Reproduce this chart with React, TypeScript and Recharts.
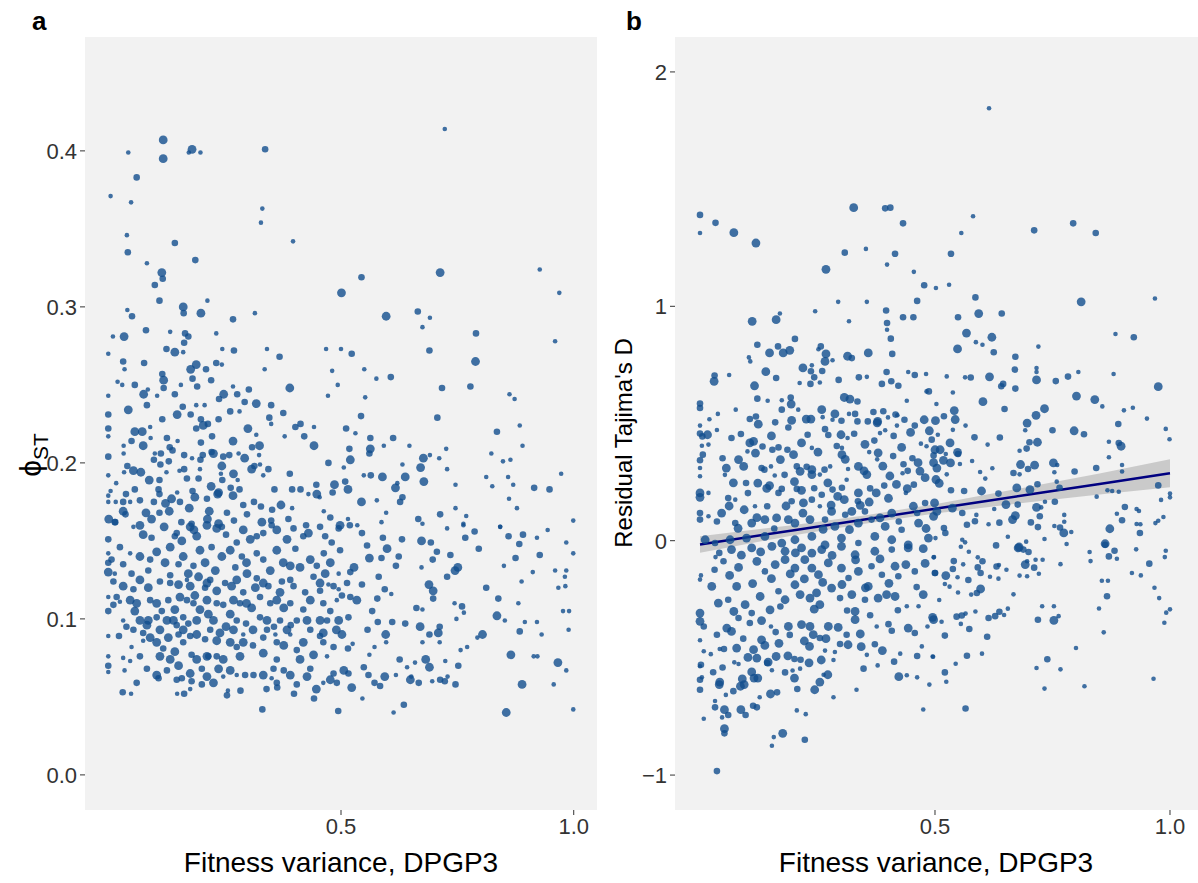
import React from 'react';
import { ScatterChart, ComposedChart, Scatter, Line, Area, XAxis, YAxis, CartesianGrid } from 'recharts';

type P = [number, number, number];

const xTicks = [0.5, 1.0];
const yTicksA = [0, 0.1, 0.2, 0.3, 0.4];
const yTicksB = [-1, 0, 1, 2];

// panel a: fitness variance vs phi_ST  [x, y, sizeClass]
const phiST: P[] = [
[0.118,0.407,3],[0.043,0.399,1],[0.118,0.395,3],[0.180,0.401,3],[0.173,0.399,1],[0.198,0.399,1],[0.337,0.401,2],[0.061,0.383,2],[0.005,0.371,1],[0.049,0.367,1],[0.331,0.363,1],[0.328,0.354,1],[0.397,0.342,1],[0.040,0.346,1],[0.143,0.341,2],[0.042,0.335,2],[0.083,0.328,1],[0.187,0.330,2],[0.115,0.322,3],[0.117,0.318,2],[0.100,0.314,2],[0.501,0.309,3],[0.110,0.304,2],[0.161,0.300,3],[0.162,0.296,2],[0.199,0.296,3],[0.213,0.304,1],[0.041,0.298,1],[0.051,0.294,2],[0.268,0.292,2],[0.315,0.296,1],[0.081,0.285,2],
[0.723,0.414,1],[0.544,0.319,2],[0.713,0.322,3],[0.927,0.324,1],[0.969,0.309,1],[0.597,0.294,3],[0.665,0.297,2],[0.691,0.293,1],[0.675,0.287,1],
[0.790,0.283,2],[0.960,0.278,1],[0.523,0.270,2],[0.690,0.272,2],[0.789,0.265,3],[0.550,0.260,1],[0.576,0.254,1],[0.607,0.255,2],[0.717,0.248,2],[0.778,0.249,2],[0.862,0.244,1],[0.873,0.241,1],[0.552,0.242,1],[0.543,0.230,2],[0.707,0.229,2],[0.884,0.224,1],[0.835,0.220,2],[0.511,0.222,2],[0.531,0.219,1],[0.563,0.216,2],[0.612,0.216,2],[0.647,0.211,1],[0.592,0.211,1],[0.518,0.209,2],[0.563,0.209,3],[0.561,0.206,2],[0.520,0.202,3],[0.677,0.203,3],[0.691,0.205,1],[0.711,0.203,1],[0.726,0.209,1],[0.890,0.211,1],[0.823,0.206,1],[0.848,0.201,1],[0.864,0.202,1],[0.632,0.199,1],[0.671,0.197,3],[0.728,0.196,1],[0.506,0.197,1],[0.549,0.192,1],[0.564,0.192,2],[0.589,0.191,3],[0.638,0.191,3],[0.509,0.188,2],[0.515,0.183,3],[0.678,0.188,3],[0.617,0.184,3],[0.621,0.187,1],[0.746,0.186,1],[0.812,0.191,1],[0.859,0.191,1],[0.973,0.193,1],[0.825,0.185,1],[0.870,0.186,1],[0.915,0.184,2],[0.948,0.183,2],[0.544,0.175,3],[0.577,0.176,1],[0.632,0.178,2],[0.627,0.175,2],[0.861,0.177,1],[0.597,0.168,1],[0.746,0.171,1],[0.878,0.171,1],[0.713,0.167,2],[0.769,0.166,1],[0.515,0.164,1],[0.519,0.160,2],[0.535,0.160,1],[0.587,0.162,1],[0.666,0.164,2],[0.675,0.161,1],[0.763,0.160,1],[0.842,0.159,1],[0.999,0.163,1],
[0.010,0.281,1],[0.034,0.281,3],[0.133,0.284,1],[0.165,0.283,2],[0.172,0.281,2],[0.163,0.277,2],[0.232,0.283,1],[0.000,0.270,1],[0.125,0.273,2],[0.143,0.271,3],[0.161,0.271,1],[0.245,0.273,1],[0.270,0.272,2],[0.341,0.273,1],[0.368,0.268,2],[0.468,0.273,1],[0.500,0.273,1],[0.032,0.265,2],[0.077,0.264,2],[0.035,0.260,1],[0.189,0.263,3],[0.177,0.260,3],[0.210,0.260,2],[0.232,0.264,2],[0.244,0.263,1],[0.336,0.260,1],[0.481,0.259,1],[0.116,0.257,2],[0.119,0.253,3],[0.181,0.254,2],[0.221,0.253,2],[0.020,0.252,1],[0.030,0.250,1],[0.057,0.250,2],[0.156,0.250,1],[0.119,0.248,2],[0.191,0.249,2],[0.268,0.249,1],[0.302,0.247,2],[0.390,0.248,3],[0.493,0.250,1],[0.000,0.243,1],[0.076,0.244,3],[0.085,0.247,1],[0.105,0.243,1],[0.143,0.244,2],[0.248,0.244,3],[0.238,0.241,2],[0.277,0.244,2],[0.318,0.238,3],[0.293,0.239,2],[0.350,0.237,2],[0.472,0.243,1],[0.043,0.234,3],[0.083,0.237,2],[0.160,0.236,2],[0.189,0.237,1],[0.207,0.237,1],[0.148,0.231,3],[0.177,0.231,2],[0.262,0.233,2],[0.282,0.233,1],[0.376,0.232,2],[0.000,0.231,2],[0.346,0.229,2],[0.116,0.228,2],[0.199,0.228,2],[0.237,0.228,2],[0.214,0.225,2],[0.204,0.224,3],[0.300,0.222,3],[0.189,0.222,2],[0.350,0.225,1],[0.402,0.223,2],[0.413,0.225,2],[0.442,0.223,1],[0.000,0.222,2],[0.000,0.217,1],[0.057,0.220,3],[0.073,0.220,3],[0.090,0.223,1],[0.091,0.216,1],[0.126,0.216,2],[0.050,0.214,2],[0.149,0.214,1],[0.199,0.213,2],[0.223,0.217,2],[0.268,0.214,3],[0.318,0.218,1],[0.379,0.217,1],[0.421,0.217,2],[0.442,0.211,3],[0.473,0.200,2],[0.486,0.186,3],[0.447,0.186,2],[0.482,0.181,2],[0.033,0.211,1],[0.075,0.211,3],[0.132,0.210,2],[0.138,0.208,2],[0.163,0.205,2],[0.180,0.203,1],[0.203,0.205,2],[0.222,0.207,2],[0.226,0.206,3],[0.247,0.204,2],[0.260,0.205,2],[0.280,0.206,1],[0.309,0.210,2],[0.325,0.211,3],[0.293,0.203,3],[0.324,0.205,1],[0.000,0.204,2],[0.033,0.206,1],[0.100,0.206,1],[0.113,0.206,2],[0.098,0.202,2],[0.130,0.201,2],[0.112,0.199,2],[0.198,0.202,2],[0.163,0.196,2],[0.197,0.196,1],[0.244,0.198,3],[0.269,0.193,3],[0.308,0.196,3],[0.314,0.198,2],[0.326,0.199,1],[0.344,0.196,2],[0.333,0.192,1],[0.390,0.193,2],[0.000,0.192,1],[0.034,0.194,1],[0.017,0.187,1],[0.041,0.198,2],[0.054,0.195,3],[0.070,0.194,3],[0.088,0.189,3],[0.110,0.189,2],[0.125,0.194,1],[0.153,0.195,1],[0.169,0.190,2],[0.194,0.190,2],[0.242,0.193,1],[0.245,0.189,2],[0.278,0.189,1],[0.221,0.185,3],[0.237,0.181,3],[0.263,0.184,2],[0.282,0.183,2],[0.357,0.183,2],[0.395,0.183,2],[0.413,0.183,2],[0.430,0.180,1],[0.057,0.183,2],[0.038,0.180,2],[0.005,0.182,1],[0.108,0.183,2],[0.110,0.180,2],[0.136,0.177,3],[0.148,0.181,1],[0.181,0.182,2],[0.186,0.178,3],[0.212,0.177,2],[0.235,0.180,3],[0.268,0.179,3],[0.290,0.173,2],[0.313,0.175,2],[0.328,0.172,2],[0.371,0.173,3],[0.352,0.170,2],[0.395,0.171,1],[0.448,0.180,3],[0.454,0.178,1],[0.000,0.179,1],[0.000,0.175,1],[0.016,0.175,1],[0.032,0.175,2],[0.047,0.175,1],[0.068,0.176,2],[0.098,0.175,2],[0.123,0.174,3],[0.154,0.175,2],[0.174,0.171,3],[0.032,0.169,3],[0.001,0.164,3],[0.015,0.162,2],[0.037,0.167,2],[0.081,0.168,3],[0.093,0.164,3],[0.110,0.168,2],[0.131,0.169,3],[0.157,0.162,2],[0.179,0.161,2],[0.217,0.169,3],[0.213,0.164,3],[0.237,0.161,3],[0.255,0.168,2],[0.270,0.163,2],[0.298,0.167,2],[0.330,0.162,3],[0.350,0.163,2],[0.387,0.164,2],[0.425,0.160,2],[0.463,0.169,1],[0.477,0.165,2],[0.498,0.160,3],
[0.014,0.162,2],[0.054,0.159,1],[0.075,0.154,3],[0.093,0.152,2],[0.120,0.159,3],[0.143,0.153,2],[0.176,0.159,3],[0.190,0.153,3],[0.233,0.158,3],[0.253,0.154,2],[0.276,0.149,2],[0.305,0.151,3],[0.333,0.155,2],[0.351,0.160,2],[0.384,0.151,3],[0.419,0.153,2],[0.455,0.159,2],[0.495,0.158,2],[0.480,0.149,2],[0.000,0.151,2],[0.000,0.142,1],[0.025,0.146,2],[0.047,0.142,1],[0.104,0.143,3],[0.133,0.146,3],[0.158,0.150,3],[0.197,0.144,3],[0.222,0.146,2],[0.262,0.144,3],[0.287,0.140,2],[0.319,0.142,2],[0.362,0.144,3],[0.402,0.145,2],[0.434,0.138,3],[0.463,0.142,2],[0.498,0.144,2],[0.000,0.136,2],[0.000,0.130,3],[0.014,0.129,1],[0.032,0.135,2],[0.050,0.129,2],[0.086,0.131,2],[0.122,0.136,3],[0.151,0.135,2],[0.172,0.129,3],[0.194,0.127,3],[0.212,0.123,3],[0.230,0.131,3],[0.251,0.123,2],[0.273,0.133,2],[0.298,0.129,3],[0.319,0.126,2],[0.348,0.131,3],[0.373,0.124,2],[0.391,0.134,3],[0.412,0.133,3],[0.441,0.127,2],[0.466,0.129,3],[0.495,0.129,1],[0.011,0.124,2],[0.032,0.121,3],[0.054,0.119,2],[0.086,0.120,3],[0.111,0.124,2],[0.133,0.123,2],[0.151,0.122,3],[0.169,0.125,1],[0.186,0.115,3],[0.208,0.120,2],[0.233,0.118,3],[0.265,0.121,3],[0.290,0.117,2],[0.316,0.120,3],[0.344,0.121,2],[0.369,0.117,3],[0.398,0.121,2],[0.423,0.117,2],[0.455,0.118,2],[0.473,0.122,1],[0.495,0.119,1],[0.000,0.114,1],[0.025,0.111,1],[0.061,0.110,3],[0.057,0.105,3],[0.011,0.109,2],[0.000,0.105,2],[0.104,0.110,3],[0.129,0.112,2],[0.115,0.105,2],[0.143,0.106,3],[0.169,0.112,2],[0.197,0.106,3],[0.215,0.103,3],[0.247,0.109,2],[0.262,0.103,3],[0.283,0.110,2],[0.308,0.107,3],[0.326,0.101,2],[0.348,0.110,2],[0.377,0.107,3],[0.405,0.099,2],[0.419,0.106,2],[0.455,0.099,3],[0.477,0.105,2],[0.495,0.099,3],[0.032,0.099,1],[0.039,0.095,2],[0.086,0.099,3],[0.083,0.096,3],[0.126,0.099,3],[0.147,0.096,2],[0.172,0.097,2],[0.253,0.095,3],[0.296,0.097,2],[0.311,0.093,3],[0.356,0.095,2],[0.392,0.096,2],[0.490,0.093,3],[0.000,0.089,1],[0.023,0.089,2],[0.075,0.091,2],[0.090,0.088,3],[0.075,0.086,1],[0.129,0.088,3],[0.151,0.090,2],[0.176,0.089,2],[0.190,0.090,3],[0.208,0.087,2],[0.233,0.086,3],[0.262,0.085,3],[0.240,0.091,3],[0.290,0.090,1],[0.333,0.088,2],[0.359,0.090,1],[0.391,0.090,1],[0.455,0.089,2],[0.050,0.082,1],[0.118,0.081,2],[0.143,0.079,3],[0.179,0.077,2],[0.212,0.076,3],[0.247,0.074,3],[0.276,0.082,2],[0.311,0.083,2],[0.333,0.078,3],[0.377,0.083,3],[0.405,0.080,2],[0.441,0.077,3],[0.470,0.076,1],[0.484,0.082,2],[0.000,0.076,1],[0.000,0.070,2],[0.000,0.066,1],[0.032,0.075,1],[0.035,0.067,1],[0.047,0.073,1],[0.083,0.068,2],[0.104,0.064,3],[0.108,0.062,2],[0.061,0.059,2],[0.111,0.076,3],[0.151,0.070,3],[0.158,0.062,2],[0.179,0.060,2],[0.201,0.068,2],[0.212,0.063,3],[0.215,0.076,2],[0.237,0.068,3],[0.247,0.063,1],[0.276,0.064,1],[0.294,0.064,2],[0.312,0.064,2],[0.333,0.064,3],[0.355,0.068,2],[0.351,0.062,1],[0.391,0.064,3],[0.405,0.058,2],[0.434,0.068,2],[0.477,0.061,3],[0.491,0.059,2],[0.484,0.065,2],[0.031,0.053,2],[0.049,0.052,1],[0.148,0.052,1],[0.163,0.052,2],[0.176,0.055,1],[0.201,0.058,2],[0.255,0.051,2],[0.257,0.054,1],[0.284,0.054,2],[0.340,0.055,2],[0.363,0.056,2],[0.399,0.052,2],[0.447,0.055,3],[0.442,0.049,2],[0.331,0.042,2],[0.494,0.041,2],
[0.068,0.160,3],[0.147,0.155,2],[0.184,0.157,3],[0.212,0.160,3],[0.244,0.159,2],[0.290,0.157,3],[0.319,0.153,2],[0.362,0.157,3],[0.398,0.158,2],[0.430,0.155,3],[0.466,0.153,2],[0.007,0.138,2],[0.068,0.140,3],[0.090,0.138,2],[0.161,0.140,3],[0.183,0.134,2],[0.208,0.136,3],[0.244,0.140,3],[0.297,0.136,3],[0.333,0.138,2],[0.376,0.136,3],[0.448,0.134,2],[0.477,0.136,3],[0.068,0.125,3],[0.133,0.128,2],[0.176,0.121,3],[0.219,0.125,2],[0.276,0.125,3],[0.333,0.123,3],[0.391,0.125,2],[0.455,0.123,3],[0.484,0.121,2],[0.018,0.114,2],[0.047,0.112,3],[0.090,0.112,2],[0.154,0.114,3],[0.183,0.110,2],[0.212,0.112,3],[0.233,0.110,2],[0.269,0.112,3],[0.297,0.110,3],[0.326,0.114,2],[0.362,0.112,3],[0.391,0.110,2],[0.434,0.112,3],[0.462,0.110,2],[0.491,0.112,1],[0.068,0.099,3],[0.104,0.101,2],[0.140,0.099,3],[0.161,0.101,2],[0.190,0.099,3],[0.226,0.099,3],[0.276,0.099,2],[0.341,0.099,3],[0.369,0.099,2],[0.427,0.099,3],[0.470,0.099,2],[0.054,0.093,2],[0.111,0.093,3],[0.161,0.093,3],[0.219,0.093,2],[0.269,0.093,3],[0.341,0.093,2],[0.384,0.093,3],[0.434,0.093,2],[0.462,0.091,3],[0.104,0.085,3],[0.161,0.085,2],[0.290,0.085,3],[0.362,0.085,2],[0.419,0.085,3],[0.462,0.085,2],[0.068,0.076,2],[0.133,0.074,3],[0.190,0.074,3],[0.233,0.076,2],[0.283,0.076,3],[0.362,0.074,2],[0.412,0.074,3],[0.126,0.067,2],[0.176,0.065,3],[0.262,0.067,3],[0.377,0.067,2],[0.427,0.063,3],[0.147,0.061,2],[0.226,0.059,3],[0.362,0.059,2],[0.462,0.059,1],
[0.545,0.155,2],[0.590,0.152,2],[0.631,0.151,2],[0.673,0.150,3],[0.693,0.149,2],[0.767,0.152,2],[0.787,0.156,2],[0.728,0.158,1],[0.763,0.161,1],[0.842,0.159,1],[0.860,0.153,2],[0.891,0.154,2],[0.921,0.152,1],[0.944,0.157,1],[0.556,0.147,2],[0.599,0.145,3],[0.561,0.139,3],[0.587,0.139,2],[0.624,0.140,2],[0.706,0.143,2],[0.735,0.141,2],[0.796,0.145,2],[0.883,0.148,2],[0.927,0.141,2],[0.984,0.149,1],[0.999,0.142,1],[0.875,0.139,2],[0.850,0.134,1],[0.528,0.133,3],[0.520,0.130,2],[0.618,0.134,2],[0.673,0.133,1],[0.697,0.138,2],[0.751,0.133,3],[0.745,0.131,3],[0.912,0.130,1],[0.960,0.131,1],[0.984,0.131,1],[0.513,0.123,2],[0.545,0.122,2],[0.581,0.127,2],[0.594,0.119,2],[0.689,0.122,3],[0.698,0.118,3],[0.728,0.127,2],[0.812,0.120,2],[0.888,0.124,1],[0.981,0.127,1],[0.967,0.120,1],[0.982,0.121,1],[0.534,0.112,3],[0.520,0.114,2],[0.502,0.115,2],[0.578,0.113,2],[0.608,0.116,1],[0.698,0.113,2],[0.662,0.107,2],[0.675,0.106,1],[0.744,0.110,1],[0.760,0.108,2],[0.764,0.104,1],[0.838,0.113,2],[0.881,0.110,1],[0.835,0.102,3],[0.852,0.099,1],[0.748,0.100,1],[0.977,0.105,1],[0.990,0.105,1],[0.567,0.105,2],[0.516,0.101,2],[0.579,0.098,2],[0.610,0.098,2],[0.638,0.097,2],[0.502,0.090,3],[0.596,0.090,3],[0.670,0.095,3],[0.712,0.095,2],[0.709,0.091,3],[0.690,0.090,2],[0.557,0.093,2],[0.804,0.090,3],[0.793,0.088,1],[0.884,0.092,2],[0.895,0.098,1],[0.921,0.098,1],[0.931,0.090,1],[0.989,0.093,1],[0.515,0.081,2],[0.525,0.084,1],[0.572,0.082,1],[0.597,0.085,1],[0.675,0.085,1],[0.712,0.085,1],[0.771,0.082,1],[0.757,0.080,1],[0.561,0.077,1],[0.626,0.074,2],[0.682,0.074,3],[0.724,0.073,1],[0.659,0.072,1],[0.865,0.077,3],[0.914,0.076,1],[0.922,0.076,1],[0.966,0.072,3],[0.984,0.067,1],[0.506,0.067,3],[0.516,0.065,2],[0.549,0.069,2],[0.559,0.064,2],[0.594,0.063,3],[0.584,0.057,2],[0.572,0.059,2],[0.642,0.069,1],[0.618,0.064,1],[0.649,0.061,3],[0.667,0.059,2],[0.651,0.063,1],[0.690,0.069,3],[0.713,0.061,2],[0.723,0.060,2],[0.729,0.063,1],[0.696,0.060,1],[0.746,0.058,2],[0.752,0.070,2],[0.889,0.058,3],[0.957,0.058,1],[0.523,0.056,3],[0.546,0.049,1],[0.635,0.045,2],[0.613,0.040,1],[0.855,0.040,3],[0.999,0.042,1],
];

// panel b: fitness variance vs residual Tajima's D  [x, y, sizeClass]
const tajimaD: P[] = [
[0.000,1.390,2],[0.033,1.356,2],[0.000,1.313,1],[0.072,1.314,3],[0.119,1.270,3],[0.327,1.421,3],[0.394,1.418,2],[0.405,1.421,2],[0.432,1.354,2],[0.308,1.229,2],[0.353,1.245,1],[0.415,1.224,2],[0.398,1.178,1],[0.268,1.158,3],[0.455,1.147,1],[0.477,1.090,2],[0.502,1.078,1],[0.294,1.019,1],[0.355,1.019,1],[0.462,1.023,2],[0.396,0.982,2],[0.432,0.953,2],[0.454,0.953,2],[0.245,0.979,1],[0.170,0.969,1],[0.162,0.943,3],[0.111,0.936,3],[0.317,0.936,1],[0.398,0.929,2],
[0.615,1.845,1],[0.581,1.384,1],[0.556,1.313,1],[0.711,1.324,2],[0.794,1.354,2],[0.842,1.313,2],[0.534,1.224,2],[0.530,1.092,1],[0.586,1.038,2],[0.811,1.019,3],[0.968,1.033,1],[0.549,0.953,2],[0.593,0.969,3],[0.642,0.969,2],
[0.398,0.900,1],[0.406,0.862,2],[0.409,0.797,2],[0.202,0.861,2],[0.122,0.836,2],[0.166,0.829,2],[0.191,0.812,3],[0.177,0.801,3],[0.148,0.801,3],[0.104,0.782,1],[0.107,0.765,1],[0.257,0.829,2],[0.252,0.817,1],[0.268,0.797,3],[0.266,0.765,3],[0.282,0.770,1],[0.314,0.787,3],[0.323,0.779,2],[0.358,0.801,3],[0.140,0.721,3],[0.116,0.661,3],[0.031,0.705,2],[0.030,0.680,3],[0.062,0.707,1],[0.162,0.694,2],[0.219,0.737,3],[0.236,0.723,2],[0.238,0.748,1],[0.260,0.724,2],[0.243,0.697,2],[0.212,0.673,1],[0.235,0.669,2],[0.255,0.675,1],[0.295,0.686,2],[0.338,0.697,2],[0.355,0.699,1],[0.387,0.669,2],[0.407,0.680,2],[0.422,0.661,2],[0.397,0.720,2],[0.443,0.720,1],[0.457,0.707,2],[0.481,0.711,1],[0.487,0.637,2],[0.000,0.585,2],[0.000,0.566,2],[0.020,0.518,1],[0.038,0.541,1],[0.076,0.559,1],[0.122,0.606,2],[0.119,0.530,2],[0.106,0.519,2],[0.144,0.597,1],[0.174,0.599,1],[0.193,0.611,2],[0.194,0.583,3],[0.209,0.559,1],[0.174,0.559,2],[0.160,0.505,2],[0.195,0.513,3],[0.226,0.519,3],[0.236,0.519,3],[0.259,0.559,3],[0.261,0.527,1],[0.282,0.516,1],[0.287,0.541,3],[0.307,0.611,3],[0.319,0.604,3],[0.335,0.594,2],[0.301,0.512,2],[0.317,0.541,1],[0.330,0.541,2],[0.335,0.509,2],[0.357,0.509,2],[0.378,0.509,3],[0.369,0.549,2],[0.390,0.552,2],[0.400,0.526,1],[0.416,0.538,2],[0.435,0.516,2],[0.457,0.491,2],[0.477,0.516,3],[0.501,0.512,3],[0.488,0.469,3],[0.493,0.431,2],[0.482,0.637,1],[0.440,0.597,1],[0.420,0.535,1],[0.000,0.491,1],[0.000,0.457,2],[0.005,0.445,2],[0.016,0.452,3],[0.018,0.410,1],[0.036,0.472,1],[0.004,0.405,1],[0.006,0.367,2],[0.000,0.343,2],[0.000,0.310,1],[0.000,0.275,1],[0.000,0.204,3],[0.000,0.185,3],[0.018,0.204,1],[0.000,0.118,2],[0.000,0.090,2],[0.067,0.438,2],[0.082,0.346,3],[0.093,0.317,3],[0.056,0.310,3],[0.053,0.281,1],[0.106,0.417,3],[0.114,0.424,3],[0.118,0.374,3],[0.101,0.381,1],[0.131,0.310,2],[0.137,0.303,2],[0.151,0.317,1],[0.154,0.388,2],[0.167,0.398,2],[0.159,0.278,1],[0.180,0.281,2],[0.098,0.246,2],[0.123,0.246,3],[0.148,0.235,3],[0.186,0.388,2],[0.199,0.367,3],[0.216,0.417,3],[0.206,0.317,2],[0.227,0.315,2],[0.238,0.303,3],[0.238,0.282,3],[0.216,0.215,3],[0.206,0.221,2],[0.174,0.221,2],[0.255,0.282,1],[0.277,0.317,1],[0.265,0.303,2],[0.266,0.476,2],[0.273,0.451,2],[0.238,0.396,1],[0.300,0.452,3],[0.302,0.367,3],[0.314,0.438,1],[0.302,0.396,1],[0.337,0.317,3],[0.355,0.282,3],[0.315,0.306,1],[0.312,0.260,1],[0.351,0.411,3],[0.360,0.378,1],[0.379,0.375,3],[0.377,0.347,1],[0.411,0.361,2],[0.383,0.459,1],[0.377,0.503,3],[0.394,0.471,1],[0.419,0.491,1],[0.448,0.462,3],[0.470,0.414,1],[0.482,0.403,1],[0.500,0.388,3],[0.497,0.364,2],[0.497,0.333,3],[0.464,0.333,3],[0.479,0.269,3],[0.433,0.326,2],[0.431,0.288,1],[0.442,0.298,2],[0.404,0.276,3],[0.418,0.240,3],[0.438,0.204,1],[0.455,0.239,2],[0.392,0.235,2],[0.375,0.204,3],[0.360,0.165,3],[0.337,0.204,3],[0.336,0.168,2],[0.307,0.175,3],[0.282,0.218,2],[0.293,0.189,3],[0.259,0.196,2],[0.238,0.175,2],[0.255,0.147,1],[0.280,0.125,3],[0.309,0.111,2],[0.323,0.125,3],[0.351,0.125,2],[0.408,0.118,3],[0.454,0.147,3],[0.479,0.161,2],[0.499,0.161,3],[0.497,0.104,3],[0.220,0.161,3],[0.195,0.168,2],[0.167,0.204,2],[0.143,0.147,2],[0.117,0.147,1],[0.094,0.132,3],[0.075,0.175,1],[0.060,0.182,2],[0.046,0.118,3],[0.036,0.082,2],[0.018,0.104,1],[0.075,0.075,2],[0.110,0.075,3],[0.138,0.090,3],[0.163,0.097,3],[0.188,0.090,3],[0.202,0.075,3],[0.234,0.090,3],[0.266,0.090,2],[0.287,0.061,3],[0.337,0.075,3],[0.365,0.090,2],[0.394,0.061,3],[0.429,0.047,2],[0.465,0.075,3],[0.011,0.004,3],[0.032,-0.010,2],[0.064,0.004,3],[0.099,0.011,3],[0.138,0.018,3],[0.174,-0.010,3],[0.202,0.004,3],[0.238,0.018,3],[0.266,-0.018,3],[0.301,0.011,3],[0.337,-0.010,2],[0.372,0.018,3],[0.408,0.004,3],[0.443,-0.018,3],[0.486,0.011,3],
[0.048,0.352,2],[0.071,0.247,3],[0.087,0.455,2],[0.124,0.497,3],[0.133,0.402,2],[0.152,0.447,3],[0.171,0.346,3],[0.188,0.483,2],[0.213,0.296,3],[0.229,0.452,2],[0.251,0.378,3],[0.272,0.247,3],[0.291,0.404,2],[0.309,0.347,3],[0.328,0.456,2],[0.349,0.298,3],[0.371,0.427,2],[0.389,0.318,3],[0.412,0.447,2],[0.429,0.398,3],[0.452,0.352,2],[0.468,0.297,3],[0.062,0.148,3],[0.081,0.053,3],[0.102,0.203,2],[0.121,0.098,3],[0.142,0.223,3],[0.158,0.052,2],[0.183,0.148,3],[0.201,0.252,3],[0.219,0.118,3],[0.243,0.224,2],[0.262,0.048,3],[0.279,0.152,3],[0.302,0.226,2],[0.318,0.047,3],[0.341,0.151,3],[0.362,0.223,2],[0.383,0.097,3],[0.401,0.181,3],[0.423,0.082,2],[0.441,0.222,3],[0.462,0.118,2],[0.481,0.052,3],
[0.041,-0.052,2],[0.063,-0.148,3],[0.088,-0.062,3],[0.112,-0.183,3],[0.129,-0.048,3],[0.152,-0.162,3],[0.171,-0.281,2],[0.192,-0.142,3],[0.203,-0.052,3],[0.222,-0.163,3],[0.243,-0.292,3],[0.261,-0.178,3],[0.281,-0.063,3],[0.302,-0.187,3],[0.313,-0.298,2],[0.331,-0.082,3],[0.352,-0.201,3],[0.362,-0.318,2],[0.383,-0.078,3],[0.402,-0.182,3],[0.421,-0.297,2],[0.438,-0.102,3],[0.461,-0.198,2],[0.479,-0.097,3],[0.072,-0.302,3],[0.092,-0.418,2],[0.131,-0.423,3],[0.168,-0.438,3],[0.191,-0.402,2],[0.222,-0.428,3],[0.268,-0.418,3],[0.298,-0.441,2],[0.341,-0.398,3],[0.372,-0.442,2],[0.051,-0.462,2],[0.102,-0.498,3],[0.181,-0.562,2],[0.232,-0.521,3],[0.028,-0.561,2],[0.071,-0.642,2],
[0.567,0.886,3],[0.587,0.847,1],[0.601,0.836,1],[0.621,0.868,3],[0.548,0.818,3],[0.625,0.804,2],[0.671,0.785,2],[0.720,0.828,1],[0.884,0.882,1],[0.923,0.868,2],[0.670,0.730,2],[0.716,0.737,1],[0.716,0.720,1],[0.716,0.686,3],[0.616,0.699,3],[0.576,0.696,2],[0.564,0.697,1],[0.525,0.701,1],[0.645,0.669,2],[0.641,0.659,2],[0.671,0.649,2],[0.757,0.681,2],[0.783,0.700,2],[0.805,0.720,1],[0.880,0.711,1],[0.975,0.657,3],[0.801,0.617,3],[0.840,0.602,3],[0.856,0.573,1],[0.602,0.593,3],[0.538,0.632,1],[0.503,0.583,1],[0.648,0.562,2],[0.733,0.563,3],[0.715,0.535,3],[0.696,0.502,3],[0.692,0.471,1],[0.902,0.556,1],[0.921,0.567,1],[0.951,0.521,1],[0.890,0.498,2],[0.796,0.469,3],[0.817,0.454,2],[0.750,0.471,2],[0.991,0.477,1],[0.999,0.433,1],[0.519,0.531,2],[0.541,0.555,3],[0.543,0.517,3],[0.565,0.491,1],[0.538,0.473,1],[0.506,0.452,1],[0.584,0.441,2],[0.638,0.440,2],[0.612,0.410,1],[0.701,0.420,2],[0.718,0.420,3],[0.695,0.393,2],[0.680,0.384,1],[0.870,0.422,1],[0.891,0.417,2],[0.896,0.403,3],[0.870,0.356,1],[0.898,0.323,1],[0.898,0.295,1],[0.532,0.417,3],[0.511,0.388,3],[0.518,0.343,3],[0.533,0.332,3],[0.548,0.377,3],[0.549,0.370,2],[0.523,0.370,1],[0.553,0.327,1],[0.579,0.340,1],[0.622,0.309,1],[0.504,0.310,3],[0.502,0.261,3],[0.509,0.245,3],[0.525,0.283,1],[0.596,0.293,1],[0.607,0.265,1],[0.682,0.325,3],[0.698,0.306,2],[0.712,0.322,3],[0.667,0.289,2],[0.680,0.283,1],[0.752,0.332,3],[0.760,0.323,1],[0.754,0.292,1],[0.797,0.295,2],[0.843,0.310,2],[0.759,0.252,1],[0.765,0.226,2],[0.718,0.241,2],[0.702,0.218,3],[0.674,0.225,3],[0.635,0.201,2],[0.599,0.212,3],[0.562,0.212,2],[0.534,0.215,2],[0.867,0.215,1],[0.877,0.212,1],[0.891,0.209,1],[0.975,0.236,2],[0.844,0.188,1],[1.000,0.201,1],[1.000,0.185,1],[0.981,0.174,1],[0.755,0.166,2],[0.726,0.142,1],[0.734,0.166,1],[0.716,0.142,3],[0.676,0.154,2],[0.651,0.154,3],[0.671,0.107,3],[0.665,0.090,3],[0.637,0.077,2],[0.626,0.135,1],[0.588,0.110,1],[0.585,0.083,2],[0.568,0.068,2],[0.558,0.118,2],[0.537,0.139,3],[0.504,0.125,3],[0.519,0.054,2],[0.522,0.033,2],[0.501,0.011,1],[0.558,0.004,1],[0.564,-0.007,1],[0.614,0.070,1],[0.655,0.017,1],[0.679,-0.027,3],[0.694,-0.004,1],[0.704,0.078,2],[0.723,0.104,2],[0.719,0.058,2],[0.754,0.063,1],[0.766,0.056,2],[0.774,0.033,3],[0.775,0.110,1],[0.775,0.081,1],[0.790,0.037,1],[0.733,0.007,1],[0.780,-0.014,1],[0.862,-0.013,3],[0.872,0.051,3],[0.887,0.115,1],[0.898,0.087,2],[0.904,0.144,2],[0.929,0.135,1],[0.934,0.127,1],[0.929,0.071,1],[0.936,0.033,2],[0.937,0.070,1],[0.969,0.075,1],[0.975,0.085,1],[0.986,0.101,1],
[0.067,-0.038,3],[0.110,-0.031,3],[0.153,-0.024,3],[0.181,-0.045,3],[0.216,-0.031,3],[0.238,-0.053,3],[0.259,-0.038,3],[0.301,-0.024,3],[0.330,-0.060,3],[0.372,-0.045,3],[0.408,-0.038,2],[0.443,-0.031,3],[0.475,-0.034,3],[0.497,-0.071,1],[0.033,-0.070,1],[0.050,-0.088,2],[0.082,-0.114,3],[0.121,-0.088,3],[0.138,-0.131,2],[0.160,-0.102,3],[0.181,-0.081,3],[0.202,-0.117,3],[0.223,-0.081,3],[0.238,-0.117,3],[0.252,-0.145,3],[0.273,-0.095,3],[0.301,-0.117,3],[0.316,-0.159,2],[0.337,-0.131,3],[0.365,-0.109,2],[0.387,-0.145,2],[0.415,-0.109,3],[0.422,-0.152,2],[0.457,-0.131,2],[0.500,-0.138,2],[0.000,-0.166,1],[0.002,-0.148,1],[0.031,-0.124,2],[0.025,-0.195,3],[0.039,-0.266,3],[0.060,-0.252,2],[0.078,-0.195,3],[0.096,-0.273,3],[0.110,-0.309,2],[0.128,-0.238,3],[0.149,-0.295,3],[0.167,-0.216,2],[0.181,-0.252,3],[0.202,-0.188,3],[0.213,-0.230,3],[0.234,-0.245,3],[0.248,-0.223,3],[0.255,-0.273,3],[0.280,-0.202,3],[0.298,-0.245,2],[0.323,-0.230,3],[0.330,-0.302,3],[0.358,-0.195,3],[0.351,-0.252,2],[0.379,-0.245,3],[0.397,-0.230,3],[0.415,-0.238,3],[0.440,-0.280,1],[0.465,-0.280,1],[0.475,-0.230,3],[0.497,-0.337,3],[0.000,-0.309,3],[0.000,-0.344,3],[0.008,-0.366,2],[0.036,-0.401,2],[0.067,-0.387,3],[0.057,-0.373,3],[0.082,-0.330,2],[0.106,-0.351,2],[0.131,-0.341,3],[0.151,-0.366,1],[0.161,-0.390,2],[0.188,-0.366,3],[0.216,-0.358,3],[0.234,-0.366,3],[0.241,-0.401,3],[0.255,-0.415,2],[0.273,-0.366,3],[0.294,-0.370,3],[0.312,-0.401,2],[0.330,-0.337,3],[0.376,-0.366,1],[0.401,-0.356,2],[0.408,-0.384,2],[0.443,-0.373,3],[0.457,-0.394,2],[0.484,-0.366,1],[0.000,-0.425,1],[0.008,-0.472,1],[0.023,-0.484,1],[0.042,-0.462,1],[0.078,-0.458,3],[0.114,-0.465,3],[0.121,-0.501,3],[0.138,-0.447,3],[0.145,-0.518,3],[0.162,-0.494,3],[0.187,-0.491,3],[0.201,-0.505,2],[0.214,-0.508,2],[0.233,-0.451,3],[0.258,-0.509,3],[0.266,-0.469,1],[0.284,-0.509,1],[0.287,-0.475,1],[0.315,-0.444,3],[0.343,-0.452,3],[0.355,-0.487,1],[0.378,-0.532,1],[0.388,-0.469,3],[0.413,-0.516,2],[0.426,-0.482,1],[0.462,-0.492,2],[0.472,-0.451,1],[0.495,-0.494,1],[0.000,-0.536,1],[0.002,-0.529,2],[0.048,-0.541,2],[0.073,-0.519,1],[0.082,-0.526,1],[0.143,-0.522,2],[0.153,-0.553,1],[0.197,-0.554,1],[0.213,-0.546,1],[0.201,-0.586,3],[0.110,-0.560,3],[0.115,-0.586,3],[0.123,-0.586,3],[0.090,-0.590,3],[0.086,-0.621,3],[0.094,-0.614,3],[0.041,-0.614,3],[0.042,-0.603,3],[0.000,-0.593,2],[0.000,-0.636,2],[0.004,-0.583,1],[0.255,-0.603,3],[0.272,-0.572,3],[0.263,-0.572,1],[0.244,-0.636,3],[0.207,-0.633,2],[0.284,-0.668,1],[0.348,-0.546,2],[0.333,-0.636,1],[0.423,-0.580,3],[0.440,-0.574,1],[0.462,-0.583,1],[0.488,-0.614,1],[0.475,-0.720,1],[0.032,-0.684,1],[0.032,-0.711,2],[0.052,-0.721,3],[0.060,-0.744,2],[0.047,-0.754,1],[0.008,-0.760,1],[0.087,-0.721,3],[0.097,-0.744,2],[0.113,-0.704,2],[0.121,-0.711,2],[0.127,-0.668,1],[0.055,-0.658,1],[0.150,-0.654,3],[0.164,-0.647,2],[0.206,-0.724,1],[0.225,-0.740,1],[0.052,-0.802,3],[0.052,-0.822,2],[0.176,-0.822,3],[0.157,-0.838,1],[0.153,-0.875,1],[0.223,-0.849,2],[0.036,-0.983,2],
[0.555,-0.026,1],[0.630,-0.020,2],[0.677,-0.031,3],[0.688,-0.038,2],[0.699,-0.048,2],[0.829,-0.048,1],[0.862,-0.017,2],[0.882,-0.043,2],[0.928,-0.037,1],[0.991,-0.043,1],[0.989,-0.070,1],[0.870,-0.067,2],[0.887,-0.077,1],[0.831,-0.087,1],[0.498,-0.070,1],[0.540,-0.087,2],[0.572,-0.047,1],[0.591,-0.071,1],[0.601,-0.088,2],[0.591,-0.114,2],[0.597,-0.138,2],[0.560,-0.101,1],[0.538,-0.121,2],[0.523,-0.149,3],[0.500,-0.138,2],[0.548,-0.156,1],[0.571,-0.168,2],[0.631,-0.110,2],[0.636,-0.104,1],[0.652,-0.124,1],[0.617,-0.154,1],[0.635,-0.162,1],[0.692,-0.102,3],[0.711,-0.115,2],[0.714,-0.081,1],[0.729,-0.081,1],[0.696,-0.088,1],[0.680,-0.149,1],[0.696,-0.152,1],[0.721,-0.141,1],[0.767,-0.100,1],[0.956,-0.098,2],[0.919,-0.138,1],[0.938,-0.148,1],[0.855,-0.171,1],[0.868,-0.171,1],[0.521,-0.185,1],[0.531,-0.196,1],[0.549,-0.221,1],[0.509,-0.253,1],[0.577,-0.230,1],[0.589,-0.223,2],[0.597,-0.206,3],[0.667,-0.229,1],[0.866,-0.237,2],[0.967,-0.201,1],[0.977,-0.245,1],[1.000,-0.293,1],[0.992,-0.307,1],[0.988,-0.350,1],[0.849,-0.289,1],[0.495,-0.327,3],[0.514,-0.346,1],[0.546,-0.324,2],[0.557,-0.319,2],[0.565,-0.311,1],[0.586,-0.302,1],[0.555,-0.355,1],[0.573,-0.377,2],[0.614,-0.330,2],[0.628,-0.322,2],[0.637,-0.303,2],[0.647,-0.317,1],[0.655,-0.290,1],[0.611,-0.410,2],[0.521,-0.405,2],[0.719,-0.337,2],[0.728,-0.280,1],[0.753,-0.280,1],[0.763,-0.322,1],[0.753,-0.340,3],[0.859,-0.391,1],[0.800,-0.458,1],[0.496,-0.495,1],[0.568,-0.491,2],[0.600,-0.482,1],[0.544,-0.525,1],[0.521,-0.562,2],[0.524,-0.602,1],[0.739,-0.506,2],[0.716,-0.543,1],[0.767,-0.549,1],[0.733,-0.631,1],[0.818,-0.621,1],[0.965,-0.589,1],[0.565,-0.716,2],
];

// linear fit with confidence band
const fitX = [0, 0.2, 0.35, 0.5, 0.7, 0.85, 1.0];
const fitY = [-0.016, 0.045, 0.090, 0.136, 0.197, 0.242, 0.288];
const fitLo = [-0.051, 0.023, 0.072, 0.116, 0.164, 0.197, 0.228];
const fitHi = [0.019, 0.067, 0.108, 0.156, 0.230, 0.287, 0.348];

const dataA = phiST.map(([x, y, s]) => ({ x, y, s }));
const dataB = tajimaD.map(([x, y, s]) => ({ x, y, s }));
const fitData = fitX.map((x, i) => ({ x, fit: fitY[i], band: [fitLo[i], fitHi[i]] }));

const R = [0, 2.3, 3.3, 4.4];
const FILL = '#124d8d';
const FONT = '"Liberation Sans", Arial, Helvetica, sans-serif';

const Dot = (props: any) => {
  const { cx, cy, payload } = props;
  if (cx == null || cy == null) return null;
  return <circle cx={cx} cy={cy} r={R[payload.s]} fill={FILL} fillOpacity={0.8} />;
};

const tickStyle = { fill: '#333333', fontSize: 22, fontFamily: FONT };
const fmt1 = (v: number) => v.toFixed(1);
const fmtB = (v: number) => (v < 0 ? '\u2212' + Math.abs(v) : String(v));

export default function App() {
  return (
    <div style={{ position: 'absolute', left: 0, top: 0, width: 1198, height: 883, background: '#ffffff', fontFamily: FONT }}>
      <div style={{ position: 'absolute', left: 0, top: 0 }}>
        <ScatterChart width={610} height={883} margin={{ top: 37, right: 13, bottom: 0, left: 0 }}>
          <CartesianGrid horizontal={false} vertical={false} fill="#f2f2f2" stroke="none" />
          <XAxis type="number" dataKey="x" domain={[-0.05, 1.05]} ticks={xTicks} tickFormatter={fmt1}
            axisLine={false} tickLine={{ stroke: '#333333' }} tickSize={5} tickMargin={3} height={73}
            tick={tickStyle} allowDataOverflow interval={0} />
          <YAxis type="number" dataKey="y" domain={[-0.0225, 0.473]} ticks={yTicksA} tickFormatter={fmt1}
            axisLine={false} tickLine={{ stroke: '#333333' }} tickSize={5} tickMargin={3} width={85}
            tick={tickStyle} allowDataOverflow interval={0} />
          <Scatter data={dataA} shape={Dot} isAnimationActive={false} />
        </ScatterChart>
      </div>
      <div style={{ position: 'absolute', left: 600, top: 0 }}>
        <ComposedChart width={598} height={883} data={fitData} margin={{ top: 37, right: 0, bottom: 0, left: 0 }}>
          <CartesianGrid horizontal={false} vertical={false} fill="#f2f2f2" stroke="none" />
          <XAxis type="number" dataKey="x" domain={[-0.0532, 1.0596]} ticks={xTicks} tickFormatter={fmt1}
            axisLine={false} tickLine={{ stroke: '#333333' }} tickSize={5} tickMargin={3} height={73}
            tick={tickStyle} allowDataOverflow interval={0} />
          <YAxis type="number" domain={[-1.149, 2.149]} ticks={yTicksB} tickFormatter={fmtB}
            axisLine={false} tickLine={{ stroke: '#333333' }} tickSize={5} tickMargin={3} width={75}
            tick={tickStyle} allowDataOverflow interval={0} />
          <Scatter data={dataB} dataKey="y" shape={Dot} isAnimationActive={false} />
          <Area dataKey="band" type="linear" fill="#999999" fillOpacity={0.45} stroke="none" isAnimationActive={false} activeDot={false} />
          <Line dataKey="fit" type="linear" stroke="#000080" strokeWidth={2.5} dot={false} activeDot={false} isAnimationActive={false} />
        </ComposedChart>
      </div>
      <svg width={1198} height={883} style={{ position: 'absolute', left: 0, top: 0, pointerEvents: 'none' }}>
        <text x={32} y={30} fontSize={26} fontWeight="bold" fill="#000" fontFamily={FONT}>a</text>
        <text x={626} y={30} fontSize={26} fontWeight="bold" fill="#000" fontFamily={FONT}>b</text>
        <text x={341} y={872} fontSize={28} textAnchor="middle" fill="#000" fontFamily={FONT}>Fitness variance, DPGP3</text>
        <text x={936} y={872} fontSize={28} textAnchor="middle" fill="#000" fontFamily={FONT}>Fitness variance, DPGP3</text>
        <text transform="translate(41,455) rotate(-90)" fontSize={30} textAnchor="middle" fill="#000" fontFamily={FONT}>
          {'\u03D5'}<tspan fontSize={21} dy={7}>ST</tspan>
        </text>
        <text transform="translate(632,443) rotate(-90)" fontSize={24} textAnchor="middle" fill="#000" fontFamily={FONT}>Residual Tajima's D</text>
      </svg>
    </div>
  );
}
